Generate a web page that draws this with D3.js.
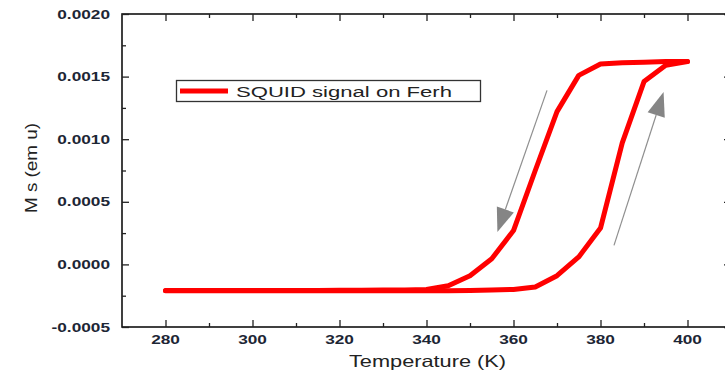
<!DOCTYPE html>
<html>
<head>
<meta charset="utf-8">
<script src="https://cdn.jsdelivr.net/npm/d3@7"></script>
<style>
  html, body { margin: 0; padding: 0; background: #fff; }
  svg { display: block; }
  text { font-family: "Liberation Sans", Arial, sans-serif; }
</style>
</head>
<body>
<svg id="chart" width="725" height="371"></svg>
<script>
// ---- data ----
const heatT = [280, 285, 290, 295, 300, 305, 310, 315, 320, 325, 330, 335, 340, 345, 350, 355, 360, 365, 370, 375, 380, 385, 390, 395, 400];
const heatM = [-0.00021, -0.00021, -0.00021, -0.00021, -0.00021, -0.00021, -0.00021, -0.00021, -0.00021, -0.00021, -0.00021, -0.00021, -0.00021, -0.00021, -0.000208, -0.000205, -0.0002, -0.00018, -0.00009, 0.00006, 0.00029, 0.00097, 0.00146, 0.00159, 0.00162];
const coolT = [400, 395, 390, 385, 380, 375, 370, 365, 360, 355, 350, 345, 340, 335, 330, 325, 320, 315, 310, 305, 300, 295, 290, 285, 280];
const coolM = [0.00162, 0.00162, 0.001615, 0.00161, 0.0016, 0.00151, 0.00122, 0.00075, 0.00027, 0.000045, -0.00009, -0.00017, -0.0002, -0.000205, -0.000205, -0.000207, -0.000207, -0.000208, -0.000208, -0.000208, -0.000208, -0.000208, -0.000208, -0.000208, -0.000208];
const xTicks = [280, 300, 320, 340, 360, 380, 400];
const yTicks = [-0.0005, 0.0, 0.0005, 0.001, 0.0015, 0.002];
const yTickLabels = ["-0.0005", "0.0000", "0.0005", "0.0010", "0.0015", "0.0020"];
const seriesName = "SQUID signal on Ferh";
const xTitle = "Temperature (K)";
const yTitle = "M s (em u)";
// annotation arrows in data units: [T0, M0, T1, M1]
const arrowDown = [367.7, 0.00139, 356.3, 0.000258];
const arrowUp = [383.1, 0.000152, 394.5, 0.001376];

// ---- layout ----
const svg = d3.select("#chart");
const L = 122, R = 731, T = 14, B = 327;
const x = d3.scaleLinear().domain([270, 410]).range([L, R]);
const y = d3.scaleLinear().domain([-0.0005, 0.002]).range([B, T]);
const SX = 1.38; // horizontal stretch of the original image's text

// frame
svg.append("rect").attr("x", L).attr("y", T).attr("width", R - L).attr("height", B - T)
  .attr("fill", "none").attr("stroke", "#111").attr("stroke-width", 1.6);

const tickStroke = "#222";
const minorX = d3.range(290, 410, 20);
const minorY = [-0.00025, 0.00025, 0.00075, 0.00125, 0.00175];

function addTicks(gen, tr, major, minor) {
  const g1 = svg.append("g").attr("transform", tr).call(gen(major, 7));
  const g2 = svg.append("g").attr("transform", tr).call(gen(minor, 4));
  [g1, g2].forEach(g => {
    g.select(".domain").remove();
    g.selectAll("text").remove();
    g.selectAll("line").attr("stroke", tickStroke).attr("stroke-width", 1.3);
  });
}
addTicks((v, s) => d3.axisBottom(x).tickValues(v).tickSizeInner(-s).tickSizeOuter(0), `translate(0,${B})`, xTicks, minorX);
addTicks((v, s) => d3.axisTop(x).tickValues(v).tickSizeInner(-s).tickSizeOuter(0), `translate(0,${T})`, xTicks, minorX);
addTicks((v, s) => d3.axisLeft(y).tickValues(v).tickSizeInner(-s).tickSizeOuter(0), `translate(${L},0)`, yTicks, minorY);
addTicks((v, s) => d3.axisRight(y).tickValues(v).tickSizeInner(-s).tickSizeOuter(0), `translate(${R},0)`, yTicks, minorY);

// tick labels
const labColor = "#1d2635";
svg.append("g").selectAll("text").data(xTicks).enter().append("text")
  .attr("transform", d => `translate(${x(d)},344) scale(${SX},1)`)
  .attr("text-anchor", "middle").attr("font-size", 12.5).attr("font-weight", "bold")
  .attr("fill", labColor).text(d => d);
svg.append("g").selectAll("text").data(yTicks).enter().append("text")
  .attr("transform", d => `translate(${L - 12},${y(d) + 4.5}) scale(${SX},1)`)
  .attr("text-anchor", "end").attr("font-size", 12.5).attr("font-weight", "bold")
  .attr("fill", labColor).text((d, i) => yTickLabels[i]);

// axis titles
svg.append("text").attr("x", 349).attr("y", 367).attr("font-size", 16.5).attr("fill", "#222")
  .attr("textLength", 157).attr("lengthAdjust", "spacingAndGlyphs").text(xTitle);
svg.append("text").attr("transform", `translate(37,213) scale(${SX},1) rotate(-90)`).attr("font-size", 12.5).attr("fill", "#222")
  .attr("textLength", 90).attr("lengthAdjust", "spacingAndGlyphs").text(yTitle);

// data lines
const line = d3.line().x(d => x(d[0])).y(d => y(d[1]));
const heat = heatT.map((t, i) => [t, heatM[i]]);
const cool = coolT.map((t, i) => [t, coolM[i]]);
[cool, heat].forEach(d => {
  svg.append("path").datum(d).attr("d", line).attr("fill", "none")
    .attr("stroke", "#ff0000").attr("stroke-width", 5)
    .attr("stroke-linejoin", "round").attr("stroke-linecap", "round");
});

// arrows
function arrow(a) {
  const x0 = x(a[0]), y0 = y(a[1]), x1 = x(a[2]), y1 = y(a[3]);
  const ang = Math.atan2(y1 - y0, x1 - x0);
  const hl = 24, hw = 9;
  const bx = x1 - hl * Math.cos(ang), by = y1 - hl * Math.sin(ang);
  svg.append("line").attr("x1", x0).attr("y1", y0).attr("x2", bx).attr("y2", by)
    .attr("stroke", "#8f8f8f").attr("stroke-width", 1.2);
  const px = -Math.sin(ang) * hw, py = Math.cos(ang) * hw;
  svg.append("path").attr("d", `M${x1},${y1}L${bx + px},${by + py}L${bx - px},${by - py}Z`)
    .attr("fill", "#858585");
}
arrow(arrowDown);
arrow(arrowUp);

// legend
const lg = svg.append("g");
lg.append("rect").attr("x", 176.5).attr("y", 80.5).attr("width", 304).attr("height", 21)
  .attr("fill", "#fff").attr("stroke", "#333").attr("stroke-width", 1.3);
lg.append("line").attr("x1", 180).attr("x2", 228).attr("y1", 91).attr("y2", 91)
  .attr("stroke", "#ff0000").attr("stroke-width", 5);
lg.append("text").attr("x", 236).attr("y", 97).attr("font-size", 15.5).attr("fill", "#222")
  .attr("textLength", 216).attr("lengthAdjust", "spacingAndGlyphs").text(seriesName);
</script>
</body>
</html>
